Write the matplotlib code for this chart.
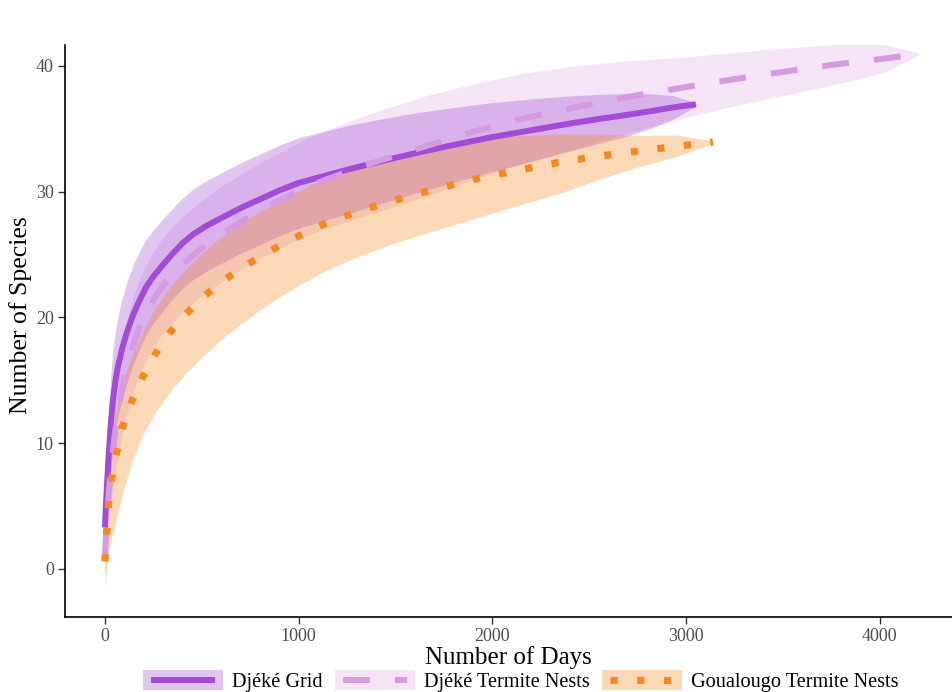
import matplotlib
matplotlib.use("Agg")
import matplotlib.pyplot as plt
import numpy as np
from matplotlib.patches import Rectangle
from matplotlib.lines import Line2D
from matplotlib.legend_handler import HandlerBase

plt.rcParams['font.family'] = ['Liberation Serif', 'DejaVu Serif']

# Djéké Grid (solid): mean and half-width of the band
grid_x = [0, 5, 10, 20, 30, 41, 55, 67, 90, 113, 145, 180, 212, 247, 300, 351,
          400, 454, 525, 600, 700, 800, 900, 1000, 1130, 1263, 1380, 1500,
          1640, 1778, 2000, 2150, 2297, 2430, 2555, 2690, 2813, 2930, 3050]
grid_y = [3.3, 5.0, 6.5, 9.2, 11.5, 13.4, 15.0, 16.1, 17.6, 18.8, 20.2, 21.4,
          22.4, 23.2, 24.2, 25.1, 25.9, 26.6, 27.3, 27.9, 28.7, 29.4, 30.1,
          30.7, 31.25, 31.8, 32.25, 32.7, 33.2, 33.65, 34.35, 34.75, 35.15,
          35.5, 35.8, 36.1, 36.4, 36.7, 36.95]
grid_hw = [2.0, 2.5, 3.0, 3.5, 3.8, 4.0, 4.0, 4.0, 4.0, 4.0, 3.95, 3.9, 3.8,
           3.7, 3.65, 3.6, 3.6, 3.6, 3.6, 3.6, 3.6, 3.6, 3.6, 3.6, 3.55, 3.5,
           3.4, 3.3, 3.15, 3.0, 2.75, 2.55, 2.35, 2.15, 1.95, 1.7, 1.4, 0.95, 0.15]

# Djéké Termite Nests (dashed)
nest_x = [0, 5, 15, 30, 52, 70, 88, 110, 130, 155, 180, 230, 283, 340, 400,
          474, 570, 680, 800, 913, 1030, 1146, 1270, 1403, 1530, 1650, 1780,
          1907, 2150, 2426, 2684, 2952, 3226, 3484, 3758, 4026, 4200]
nest_y = [1.0, 2.5, 5.0, 8.0, 10.8, 12.6, 14.2, 15.8, 17.0, 18.2, 19.3, 20.9,
          22.2, 23.3, 24.2, 25.2, 26.3, 27.4, 28.5, 29.4, 30.3, 31.0, 31.7,
          32.4, 33.0, 33.6, 34.2, 34.8, 35.8, 36.7, 37.5, 38.2, 38.9, 39.5,
          40.1, 40.6, 40.95]
nest_hw = [1.5, 2.0, 2.5, 3.0, 3.3, 3.5, 3.6, 3.7, 3.8, 3.8, 3.8, 3.8, 3.8,
           3.8, 3.8, 3.8, 3.8, 3.8, 3.8, 3.8, 3.85, 3.9, 3.95, 4.0, 4.0, 4.0,
           3.9, 3.8, 3.6, 3.3, 2.9, 2.45, 2.15, 1.9, 1.6, 1.1, 0.1]

# Goualougo Termite Nests (dotted): distance below / above the mean
goua_x = [0, 9, 17, 34, 60, 91, 138, 196, 260, 335, 420, 505, 600, 711, 820,
          938, 1110, 1299, 1490, 1677, 1935, 2130, 2333, 2535, 2735, 2950, 3138]
goua_y = [0.6, 2.8, 4.9, 7.1, 9.2, 11.3, 13.3, 15.3, 17.1, 18.8, 20.3, 21.6,
          22.8, 24.0, 25.0, 26.0, 27.3, 28.4, 29.3, 30.1, 31.1, 31.7, 32.3,
          32.8, 33.2, 33.6, 33.95]
goua_dlo = [2.1, 2.8, 3.9, 4.6, 5.2, 5.3, 4.8, 4.6, 4.65, 4.7, 4.7, 4.7, 4.55,
            4.4, 4.2, 4.0, 3.8, 3.6, 3.4, 3.3, 3.1, 2.8, 2.5, 1.9, 1.3, 0.8, 0.1]
goua_dhi = [1.9, 2.2, 2.6, 3.4, 3.6, 3.5, 3.6, 3.6, 3.6, 3.6, 3.6, 3.6, 3.6,
            3.6, 3.6, 3.6, 3.6, 3.6, 3.45, 3.3, 3.05, 2.75, 2.3, 1.8, 1.3, 0.9, 0.1]

labels = ["Djéké Grid", "Djéké Termite Nests", "Goualougo Termite Nests"]
c_grid = '#A24BD6'
c_nest = '#D59AE0'
c_goua = '#F5891F'
a_grid, a_nest, a_goua = 0.32, 0.26, 0.32
lw = 4.3
styles = [(c_grid, a_grid, lw, None),
          (c_nest, a_nest, lw, (4.5, 4.2)),
          (c_goua, a_goua, 5.2, (1.0, 2.7))]


class BandKey(HandlerBase):
    """legend key: shaded band box with the line drawn inside it"""
    def __init__(self, color, alpha, width, dashes):
        super().__init__()
        self.c, self.a, self.w, self.d = color, alpha, width, dashes

    def create_artists(self, legend, orig_handle, xdescent, ydescent,
                       width, height, fontsize, trans):
        x0, y0 = -xdescent, -ydescent
        box = Rectangle((x0, y0), width, height, facecolor=self.c,
                        alpha=self.a, lw=0, transform=trans)
        kw = dict(color=self.c, lw=self.w, transform=trans,
                  solid_capstyle='butt', dash_capstyle='butt')
        if self.d:
            kw['dashes'] = self.d
        ln = Line2D([x0 + 0.1 * width, x0 + 0.9 * width],
                    [y0 + height / 2] * 2, **kw)
        return [box, ln]


fig = plt.figure(figsize=(9.52, 6.92), dpi=100)
ax = fig.add_axes([65/952, 75/692, 887/952, 572/692])

gy, gh = np.array(grid_y), np.array(grid_hw)
ny, nh = np.array(nest_y), np.array(nest_hw)
oy = np.array(goua_y)

ax.fill_between(nest_x, ny - nh, ny + nh, color=c_nest, alpha=a_nest, lw=0)
ax.fill_between(grid_x, gy - gh, gy + gh, color=c_grid, alpha=a_grid, lw=0)
ax.plot(grid_x, grid_y, color=c_grid, lw=lw, solid_capstyle='butt')
ax.plot(nest_x, nest_y, color=c_nest, lw=lw, dashes=(4.5, 4.2),
        dash_capstyle='butt')
ax.fill_between(goua_x, oy - np.array(goua_dlo), oy + np.array(goua_dhi),
                color=c_goua, alpha=a_goua, lw=0)
ax.plot(goua_x, goua_y, color=c_goua, lw=5.2, dashes=(1.0, 2.7),
        dash_capstyle='butt')

ax.set_xlim(-206, 4372)
ax.set_ylim(-3.82, 41.67)
ax.set_xticks([0, 1000, 2000, 3000, 4000])
ax.set_yticks([0, 10, 20, 30, 40])
for s in ['top', 'right']:
    ax.spines[s].set_visible(False)
for s in ['left', 'bottom']:
    ax.spines[s].set_linewidth(1.2)
ax.tick_params(length=5, width=1, color='#333333', labelcolor='#4D4D4D',
               labelsize=13, pad=3)
ax.set_xlabel("Number of Days", fontsize=18, labelpad=1)
ax.set_ylabel("Number of Species", fontsize=18.5)
ax.yaxis.set_label_coords(-0.037, 0.528)

handles = [Line2D([], []) for _ in labels]
hmap = {h: BandKey(*st) for h, st in zip(handles, styles)}
fig.legend(handles, labels, handler_map=hmap, loc='lower center',
           bbox_to_anchor=(521/952, 0.0), ncol=3, frameon=False,
           fontsize=14.6, handlelength=3.95, handleheight=1.1,
           handletextpad=0.45, columnspacing=0.6, borderpad=0.0,
           borderaxespad=0.0)

fig.savefig("out.png", dpi=100)
